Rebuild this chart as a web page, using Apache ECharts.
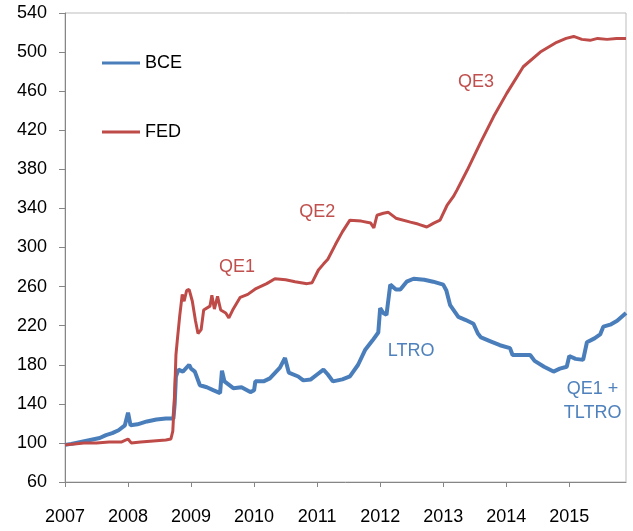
<!DOCTYPE html>
<html>
<head>
<meta charset="UTF-8">
<title>BCE vs FED</title>
<script src="https://cdn.jsdelivr.net/npm/echarts@6/dist/echarts.min.js"></script>
<style>
  html, body { margin: 0; padding: 0; background: #fff; }
  #chart { width: 633px; height: 531px; }
</style>
</head>
<body>
<div id="chart"></div>
<script type="text/javascript">
// dates as decimal years (index, 2007 = 100)
var bceDates = [2007.00, 2007.10, 2007.25, 2007.40, 2007.55, 2007.65, 2007.75, 2007.85, 2007.95, 2008.00,
    2008.04, 2008.15, 2008.30, 2008.45, 2008.60, 2008.72, 2008.74, 2008.76, 2008.80, 2008.87,
    2008.97, 2009.00, 2009.06, 2009.14, 2009.25, 2009.35, 2009.46, 2009.49, 2009.53, 2009.67,
    2009.80, 2009.94, 2010.00, 2010.02, 2010.15, 2010.25, 2010.41, 2010.49, 2010.55, 2010.70,
    2010.78, 2010.90, 2011.00, 2011.10, 2011.17, 2011.25, 2011.40, 2011.52, 2011.65, 2011.76,
    2011.88, 2011.97, 2012.00, 2012.05, 2012.10, 2012.13, 2012.16, 2012.25, 2012.32, 2012.42,
    2012.53, 2012.70, 2012.84, 2013.00, 2013.05, 2013.11, 2013.24, 2013.35, 2013.48, 2013.55,
    2013.60, 2013.75, 2013.90, 2014.06, 2014.10, 2014.25, 2014.38, 2014.45, 2014.60, 2014.75,
    2014.85, 2014.96, 2015.00, 2015.10, 2015.22, 2015.28, 2015.40, 2015.49, 2015.54, 2015.65,
    2015.76, 2015.90];
var bceValues = [98, 99, 101, 103, 105, 108, 110, 113, 118, 131,
    118, 119, 122, 124, 125, 125, 140, 168, 175, 173,
    180, 176, 173, 159, 157, 154, 151, 174, 163, 156,
    157, 152, 154, 163, 163, 166, 177, 187, 172, 168,
    164, 165, 170, 175, 170, 163, 165, 168, 180, 195,
    205, 213, 238, 233, 231, 233, 262, 257, 257, 265,
    268, 267, 265, 262, 256, 241, 229, 226, 222, 212,
    208, 204, 200, 197, 190, 190, 190, 184, 178, 173,
    176, 178, 189, 186, 185, 203, 207, 211, 219, 221,
    225, 233];

var fedDates = [2007.00, 2007.15, 2007.30, 2007.50, 2007.70, 2007.90, 2008.00, 2008.05, 2008.20, 2008.40,
    2008.60, 2008.68, 2008.71, 2008.74, 2008.76, 2008.78, 2008.82, 2008.86, 2008.89, 2008.93,
    2008.97, 2009.02, 2009.07, 2009.11, 2009.16, 2009.20, 2009.30, 2009.33, 2009.37, 2009.42,
    2009.47, 2009.55, 2009.60, 2009.66, 2009.78, 2009.90, 2010.03, 2010.20, 2010.33, 2010.50,
    2010.65, 2010.84, 2010.92, 2011.02, 2011.10, 2011.17, 2011.29, 2011.40, 2011.52, 2011.70,
    2011.85, 2011.90, 2011.95, 2012.05, 2012.13, 2012.25, 2012.48, 2012.60, 2012.74, 2012.85,
    2012.95, 2013.06, 2013.16, 2013.22, 2013.38, 2013.59, 2013.80, 2014.01, 2014.27, 2014.54,
    2014.80, 2014.95, 2015.07, 2015.20, 2015.33, 2015.45, 2015.60, 2015.75, 2015.90];
var fedValues = [98, 99, 100, 100, 101, 101, 104, 100, 101, 102,
    103, 104, 112, 150, 190, 204, 230, 252, 245, 256,
    257, 245, 225, 212, 216, 236, 240, 251, 237, 250,
    236, 233, 228, 236, 249, 252, 258, 263, 268, 267,
    265, 263, 264, 277, 283, 288, 303, 316, 328, 327,
    325, 320, 333, 335, 336, 330, 326, 324, 321, 325,
    328, 343, 352, 359, 379, 407, 434, 458, 485, 500,
    510, 514, 516, 513, 512, 514, 513, 514, 514];

var yearTicks = [2007, 2008, 2009, 2010, 2011, 2012, 2013, 2014, 2015];

// annotation texts and where they sit in data space
var fedNotes = [
    { text: 'QE1', at: [2009.73, 280] },
    { text: 'QE2', at: [2011.00, 336] },
    { text: 'QE3', at: [2013.52, 469] }
];
var bceNotes = [
    { text: 'LTRO', at: [2012.49, 194] },
    { text: 'QE1 +\nTLTRO', at: [2015.37, 143] }
];

function pairs(xs, ys) {
    var out = [];
    for (var i = 0; i < xs.length; i++) out.push([xs[i], ys[i]]);
    return out;
}
function notes(list, color) {
    return {
        symbol: 'circle',
        symbolSize: 0,
        silent: true,
        label: {
            show: true,
            position: 'inside',
            color: color,
            fontSize: 18,
            lineHeight: 24,
            fontFamily: 'Liberation Sans, Arial, sans-serif',
            formatter: function (p) { return p.name; }
        },
        data: list.map(function (n) { return { name: n.text, coord: n.at }; })
    };
}

var blue = '#4A7EBB';
var red = '#BE4B48';
var font = 'Liberation Sans, Arial, sans-serif';

var myChart = echarts.init(document.getElementById('chart'));
var option = {
    animation: false,
    grid: {
        left: 65, right: 7, top: 13, bottom: 49,
        show: true,
        borderColor: '#BDBDBD',
        borderWidth: 1
    },
    legend: {
        data: ['BCE', 'FED'],
        orient: 'vertical',
        left: 102,
        top: 53,
        padding: 0,
        icon: 'rect',
        itemWidth: 38,
        itemHeight: 3,
        itemGap: 49,
        textStyle: { fontSize: 18, color: '#000', fontFamily: font, lineHeight: 20 }
    },
    xAxis: {
        type: 'value',
        min: 2007,
        max: 2015.9,
        interval: 1,
        splitLine: { show: false },
        axisLine: { lineStyle: { color: '#868686', width: 1 } },
        axisTick: { show: true, length: 5, customValues: yearTicks, lineStyle: { color: '#868686' } },
        axisLabel: {
            customValues: yearTicks,
            margin: 26,
            fontSize: 18,
            color: '#000',
            fontFamily: font,
            formatter: function (v) { return String(v); }
        }
    },
    yAxis: {
        type: 'value',
        min: 60,
        max: 540,
        interval: 40,
        splitLine: { show: false },
        axisLine: { show: true, lineStyle: { color: '#868686', width: 1 } },
        axisTick: { show: true, length: 6, lineStyle: { color: '#868686' } },
        axisLabel: { margin: 18, fontSize: 18, color: '#000', fontFamily: font }
    },
    series: [
        {
            name: 'BCE',
            type: 'line',
            showSymbol: false,
            symbol: 'none',
            color: blue,
            lineStyle: { width: 4, color: blue },
            data: pairs(bceDates, bceValues),
            markPoint: notes(bceNotes, '#4F81BD')
        },
        {
            name: 'FED',
            type: 'line',
            showSymbol: false,
            symbol: 'none',
            color: red,
            lineStyle: { width: 3, color: red },
            data: pairs(fedDates, fedValues),
            markPoint: notes(fedNotes, '#C0504D')
        }
    ]
};
myChart.setOption(option);
</script>
</body>
</html>
